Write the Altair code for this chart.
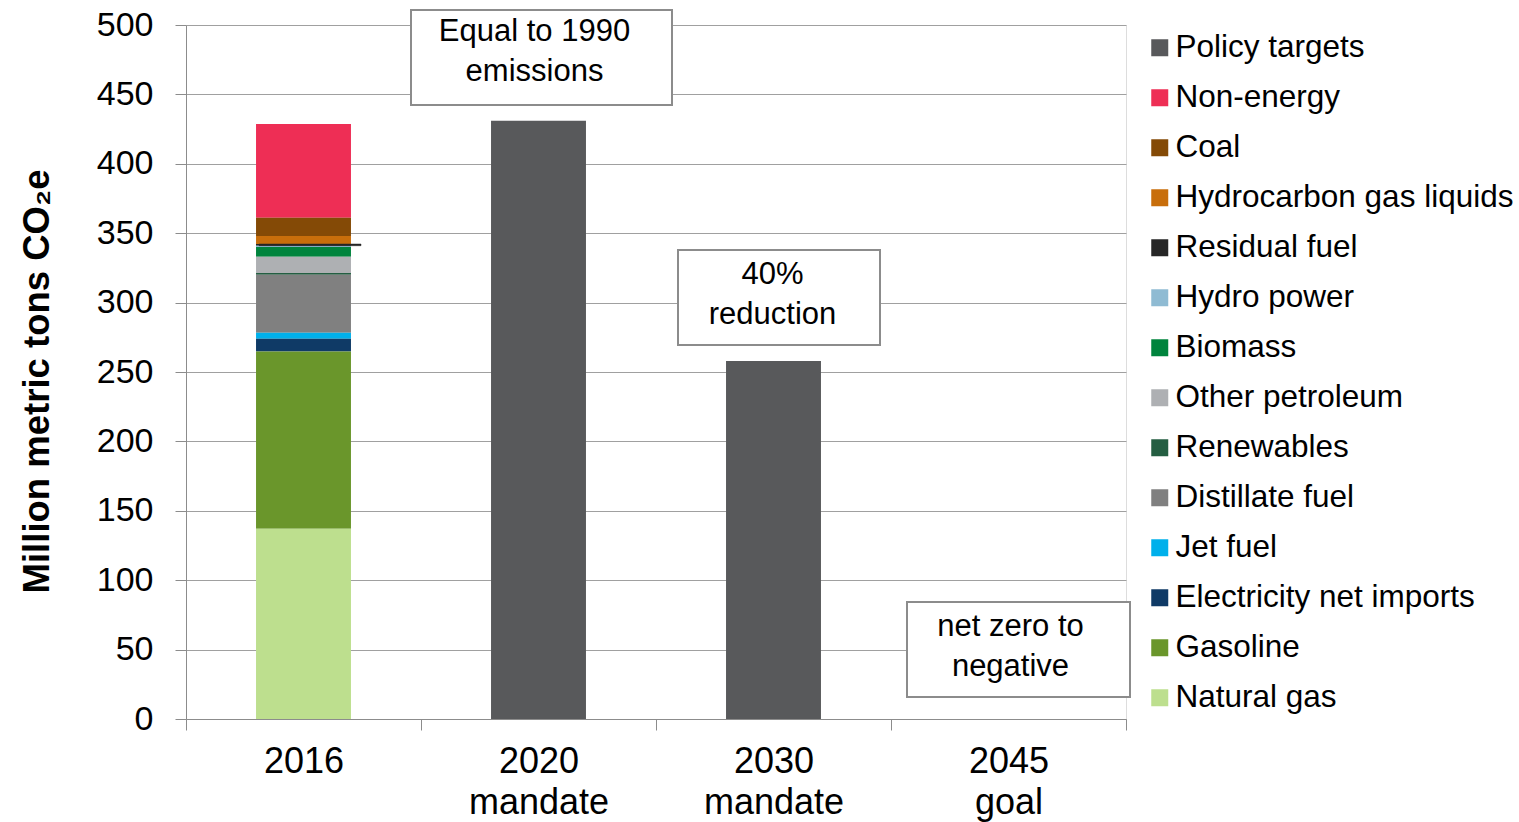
import altair as alt
import pandas as pd

# Categories on the x axis (a space marks the line break in the label)
categories = ["2016", "2020 mandate", "2030 mandate", "2045 goal"]

# Emission sources, in legend order (top of legend first)
sources = [
    "Policy targets",
    "Non-energy",
    "Coal",
    "Hydrocarbon gas liquids",
    "Residual fuel",
    "Hydro power",
    "Biomass",
    "Other petroleum",
    "Renewables",
    "Distillate fuel",
    "Jet fuel",
    "Electricity net imports",
    "Gasoline",
    "Natural gas",
]
colors = [
    "#58595B", "#EE2E55", "#844A06", "#C86E0B", "#262626", "#8FBBD3",
    "#00843D", "#AEB0B3", "#245E42", "#808080", "#00B0EB", "#0F3A66",
    "#6A962B", "#BDDF8E",
]

# 2016 inventory by source (million metric tons CO2e), same order as sources[1:]
emissions_2016 = [67.5, 13.2, 5.8, 1.2, 0.9, 7.0, 11.8, 1.3, 41.8, 4.3, 9.2, 127.7, 137.0]

# Policy targets for the mandate / goal years
target_categories = ["2020 mandate", "2030 mandate", "2045 goal"]
target_values = [431.0, 258.0, 0.0]

# Annotation notes: category, box bottom / top, first text line (data units)
note_categories = ["2020 mandate", "2030 mandate", "2045 goal"]
note_texts = ["Equal to 1990\nemissions", "40%\nreduction", "net zero to\nnegative"]
note_low = [442.4, 269.5, 15.9]
note_high = [510.8, 337.9, 84.3]
note_text_y = [494.9, 319.9, 66.3]

rows = []
n = len(sources)
for i, (src, val) in enumerate(zip(sources[1:], emissions_2016)):
    rows.append({"category": "2016", "source": src, "value": val, "rank": n - 1 - i})
for cat, val in zip(target_categories, target_values):
    rows.append({"category": cat, "source": "Policy targets", "value": val, "rank": 0})
bars_df = pd.DataFrame(rows)

# Residual fuel is also drawn as a dark line running past the 2016 bar
resid_idx = sources[1:].index("Residual fuel")
resid_base = sum(emissions_2016[resid_idx + 1:])
resid_df = pd.DataFrame({
    "category": ["2016"],
    "lo": [resid_base],
    "hi": [resid_base + emissions_2016[resid_idx]],
})

FONT = "Liberation Sans"
GREY = "#8c8c8c"
Y_TITLE = "Million metric tons CO\u2082e"

x_enc = alt.X(
    "category:N",
    sort=categories,
    scale=alt.Scale(domain=categories, paddingInner=0, paddingOuter=0),
    axis=alt.Axis(
        title=None,
        labelExpr="split(datum.label, ' ')",
        labelFontSize=36,
        labelLineHeight=41,
        labelColor="black",
        labelFont=FONT,
        labelAngle=0,
        labelPadding=14,
        tickBand="extent",
        tickSize=11,
        tickColor=GREY,
        domainColor=GREY,
        grid=False,
    ),
)

y_scale = alt.Scale(domain=[0, 500], nice=False)
y_axis = alt.Axis(
    title=Y_TITLE,
    values=list(range(0, 501, 50)),
    labelFontSize=34,
    labelFont=FONT,
    labelColor="black",
    labelPadding=22,
    tickSize=11,
    tickColor=GREY,
    domainColor=GREY,
    gridColor="#a0a0a0",
    gridWidth=1,
    titleFont=FONT,
    titleFontSize=36.5,
    titleFontWeight="bold",
    titleColor="black",
    titleAngle=270,
    titleX=-149,
    titleY=356,
    titleAlign="center",
    titleBaseline="middle",
)

bars = alt.Chart(bars_df).mark_bar(width=alt.RelativeBandSize(0.404)).encode(
    x=x_enc,
    y=alt.Y("value:Q", stack="zero", scale=y_scale, axis=y_axis),
    color=alt.Color(
        "source:N",
        scale=alt.Scale(domain=sources, range=colors),
        legend=alt.Legend(
            title=None,
            orient="none",
            legendX=958,
            legendY=7,
            symbolType="square",
            symbolSize=289,
            symbolStrokeWidth=0,
            labelFontSize=31.5,
            labelFont=FONT,
            labelColor="black",
            labelLimit=420,
            labelOffset=0,
            rowPadding=17,
            padding=0,
        ),
    ),
    order=alt.Order("rank:Q", sort="ascending"),
)

resid_line = alt.Chart(resid_df).mark_bar(
    width=102, xOffset=6.5, color="#262626", stroke="#262626", strokeWidth=0.5,
).encode(
    x=alt.X("category:N", sort=categories),
    y=alt.Y("lo:Q", scale=y_scale, title=Y_TITLE),
    y2="hi:Q",
)

notes_df = pd.DataFrame({
    "category": note_categories,
    "note": note_texts,
    "lo": note_low,
    "hi": note_high,
    "ty": note_text_y,
})

box_widths = [261, 202, 223]
box_shifts = [3, 5.5, 10]
text_shifts = [-4, -1, 2]

layers = [bars, resid_line]
for i in range(len(note_categories)):
    one = notes_df.iloc[[i]]
    box = alt.Chart(one).mark_bar(
        width=box_widths[i], xOffset=box_shifts[i],
        fill="white", stroke=GREY, strokeWidth=2,
    ).encode(
        x=alt.X("category:N", sort=categories),
        y=alt.Y("lo:Q", scale=y_scale, title=Y_TITLE),
        y2="hi:Q",
    )
    txt = alt.Chart(one).mark_text(
        font=FONT, fontSize=31, color="black", lineBreak="\n", lineHeight=40,
        baseline="middle", align="center", xOffset=text_shifts[i],
    ).encode(
        x=alt.X("category:N", sort=categories),
        y=alt.Y("ty:Q", scale=y_scale, title=Y_TITLE),
        text="note:N",
    )
    layers += [box, txt]

chart = alt.layer(*layers).properties(
    width=940,
    height=694,
    autosize="none",
    padding={"left": 186, "top": 25, "right": 393, "bottom": 103},
).configure_view(stroke=None).configure(font=FONT)

chart.save("out.html", embed_options={"renderer": "svg", "actions": False})
